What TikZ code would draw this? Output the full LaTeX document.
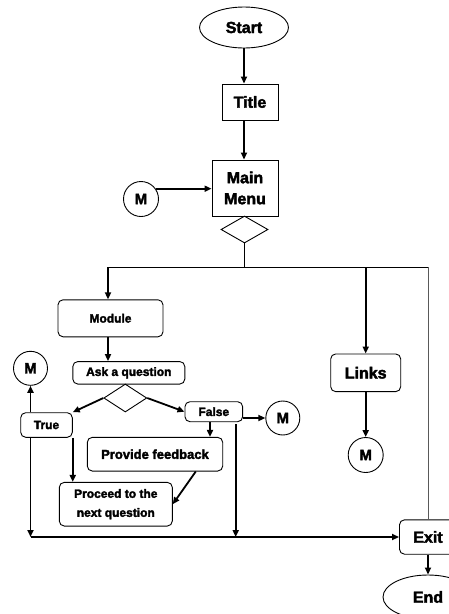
\documentclass[tikz,border=0pt]{standalone}
\usepackage{fontspec}
\setmainfont{Liberation Sans}[BoldFeatures={FakeBold=2.5}]
\usetikzlibrary{shapes.geometric,arrows.meta}
\begin{document}
\begin{tikzpicture}[x=1pt,y=-1pt,
  font=\bfseries,
  arr/.style={line width=1.8pt,-{Triangle[length=7pt,width=6pt]}},
  thin line/.style={line width=0.9pt},
  box/.style={draw,line width=0.9pt,inner sep=0pt,align=center},
  rbox/.style={box,rounded corners=5pt},
  oval/.style={draw,ellipse,line width=0.9pt,inner sep=0pt},
  conn/.style={draw,circle,line width=0.9pt,inner sep=0pt,minimum size=35pt,font=\bfseries\fontsize{15}{18}\selectfont},
  dia/.style={draw,diamond,line width=0.9pt,inner sep=0pt},
  big/.style={font=\bfseries\fontsize{16}{21}\selectfont},
  small/.style={font=\bfseries\fontsize{12}{19}\selectfont}]
\useasboundingbox (0,0) rectangle (448,614);

% top chain
\node[oval,big,minimum width=89pt,minimum height=41pt] (start) at (244,27.5) {Start};
\node[box,big,minimum width=56pt,minimum height=36pt] (title) at (250,102) {Title};
\node[box,big,minimum width=66pt,minimum height=56pt] (menu) at (245,188) {Main\\Menu};
\node[conn] (m1) at (141,199) {M};
\node[dia,minimum width=47pt,minimum height=27pt] (d1) at (244.5,229.5) {};

% branch coordinates
\coordinate (bc) at (244.5,267);
\coordinate (bl) at (108,267);
\coordinate (bm) at (365.7,267);
\coordinate (br) at (428.5,267);

% middle nodes
\node[rbox,small,minimum width=105pt,minimum height=37pt] (module) at (110.5,318.3) {Module};
\node[rbox,small,minimum width=112pt,minimum height=22.5pt] (ask) at (128.8,372.8) {Ask a question};
\node[dia,minimum width=43pt,minimum height=28pt] (d2) at (125.3,398) {};
\node[rbox,small,minimum width=51.6pt,minimum height=24.6pt] (true) at (46.5,425) {True};
\node[rbox,small,minimum width=57.7pt,minimum height=20pt] (false) at (213.8,411.7) {False};
\node[conn,minimum size=34pt] (m2) at (30.5,368.3) {M};
\node[conn,minimum size=34pt] (m3) at (282.8,418) {M};
\node[rbox,font=\bfseries\fontsize{13}{16}\selectfont,minimum width=135.4pt,minimum height=33.7pt] (feedback) at (155,454.2) {Provide feedback};
\node[rbox,small,minimum width=113pt,minimum height=43.7pt] (proceed) at (115.8,504.2) {Proceed to the\\next question};
\node[rbox,big,minimum width=70pt,minimum height=37.7pt] (links) at (365.7,372.8) {Links};
\node[conn] (m4) at (365.7,455) {M};
\node[rbox,big,minimum width=57pt,minimum height=34.4pt] (exit) at (428,537) {Exit};
\node[oval,big,minimum width=90pt,minimum height=44pt] (end) at (428,597) {End};

\coordinate (fx) at (235.7,424);

% connectors
\draw[arr] (start.south) -- (start.south |- title.north);
\draw[arr] (start.south |- title.south) -- (start.south |- menu.north);
\draw[arr] (m1.35) -- (m1.35 -| menu.west);
\draw[thin line] (d1.south) -- (bc);
\draw[thin line] (bl) -- (br);
\draw[thin line,draw=black!65] (br) -- (br |- exit.north);
\draw[arr] (bl) -- (bl |- module.north);
\draw[arr] (bm) -- (links.north);
\draw[arr] (bl |- module.south) -- (bl |- ask.north);
\draw[arr] (d2.west) -- (true.north east);
\draw[arr] (d2.east) -- (false.west);
\draw[arr] (false.east |- m3.west) -- (m3.west);
\draw[arr] (false.south -| 210,0) -- (feedback.north -| 210,0);
\draw[arr] (fx) -- (fx |- exit.west);
\draw[arr] (true.north -| m2.south) -- (m2.south);
\draw[arr] (true.south -| m2.south) -- (m2.south |- exit.west);
\draw[line width=1.8pt] (m2.south |- exit.west) -- (fx |- exit.west);
\draw[arr] (fx |- exit.west) -- (exit.west);
\draw[arr] (true.south east) -- (true.south east |- proceed.north);
\draw[arr] (feedback.-23) -- (proceed.east);
\draw[arr] (links.south) -- (m4.north);
\draw[arr] (exit.south) -- (end.north);
\end{tikzpicture}
\end{document}
